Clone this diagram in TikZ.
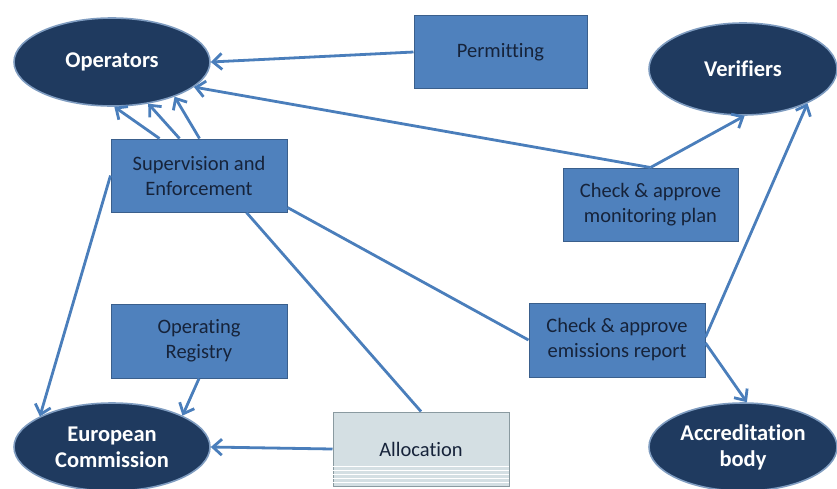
\documentclass[tikz,border=0pt]{standalone}
\usepackage{fontspec}
\setmainfont[Ligatures=CommonOff]{Carlito}
\usetikzlibrary{arrows.meta,shapes.geometric}
\definecolor{boxfill}{HTML}{4F81BD}
\definecolor{boxedge}{HTML}{3A5F8C}
\definecolor{boxtext}{HTML}{16233A}
\definecolor{ellfill}{HTML}{1F3A5F}
\definecolor{elledge}{HTML}{7F9CC0}
\definecolor{arrowcol}{HTML}{4A7EBB}
\definecolor{allocfill}{HTML}{D4DFE3}
\definecolor{allocedge}{HTML}{8A9AA0}
\tikzset{
  bluebox/.style={draw=boxedge, line width=1pt, fill=boxfill, text=boxtext,
    minimum width=176pt, minimum height=73pt, align=center, inner sep=0pt,
    font=\fontsize{20.5}{25}\selectfont},
  actor/.style={ellipse, draw=elledge, line width=1.6pt, fill=ellfill, text=white,
    minimum width=196pt, minimum height=88pt, align=center, inner sep=0pt,
    font=\fontsize{22.5}{26}\selectfont\bfseries},
  allocbox/.style={draw=allocedge, line width=1pt, fill=allocfill, text=boxtext,
    minimum width=176pt, minimum height=74pt, align=center, inner sep=0pt,
    font=\fontsize{20.5}{25}\selectfont},
  link/.style={draw=arrowcol, line width=2.8pt},
  arr/.style={link, -{Straight Barb[length=9pt,width=16pt,line width=2.8pt]}},
}
\begin{document}
\begin{tikzpicture}[x=1pt,y=-1pt]
\useasboundingbox (0,0) rectangle (837,488);
% actors
\node[actor] (ops) at (112,62) {Operators};
\node[actor, minimum width=188pt, minimum height=92pt] (ver) at (743,69) {Verifiers};
\node[actor, minimum height=88pt] (ec) at (112,447) {European\\Commission};
\node[actor, minimum width=188pt, minimum height=88pt] (acc) at (743,447) {Accreditation\\body};
% boxes
\node[bluebox, minimum width=173pt] (perm) at (500.5,52) {Permitting};
\node[bluebox] (sup) at (199,175.5) {Supervision and\\Enforcement};
\node[bluebox, minimum width=175pt] (cmp) at (650.5,204.5) {Check \& approve\\monitoring plan};
\node[bluebox, minimum height=74pt] (opreg) at (199,341) {Operating\\Registry};
\node[bluebox, minimum height=74pt] (cem) at (617,340) {Check \& approve\\emissions report};
\node[allocbox] (alloc) at (421,449) {Allocation};
\foreach \yy in {466,470,474,478,482}
  \draw[white, line width=0.8pt] ([yshift=-\yy pt+449pt, xshift=0.6pt]alloc.west) -- ([yshift=-\yy pt+449pt, xshift=-0.6pt]alloc.east);
% connectors
\draw[arr] (perm.west) -- (ops.east);
\draw[arr] (cmp.north) -- (ops.343);
\draw[arr] (cmp.north) -- (ver.272);
\draw[arr] ([xshift=49pt]sup.north west) -- (ops.273);
\draw[arr] ([xshift=69pt]sup.north west) -- (ops.311);
\draw[arr] ([xshift=89pt]sup.north west) -- (ops.331);
\draw[arr] (sup.west) -- (ec.157);
\draw[link] ([xshift=136pt]sup.south west) -- (alloc.north);
\draw[link] ([yshift=5pt]sup.south east) -- (cem.west);
\draw[arr] (opreg.south) -- (ec.24);
\draw[arr] (alloc.west) -- (ec.east);
\draw[arr] ([yshift=3pt]cem.east) -- (ver.332);
\draw[arr] ([yshift=-3pt]cem.east) -- (acc.85);
\end{tikzpicture}
\end{document}
